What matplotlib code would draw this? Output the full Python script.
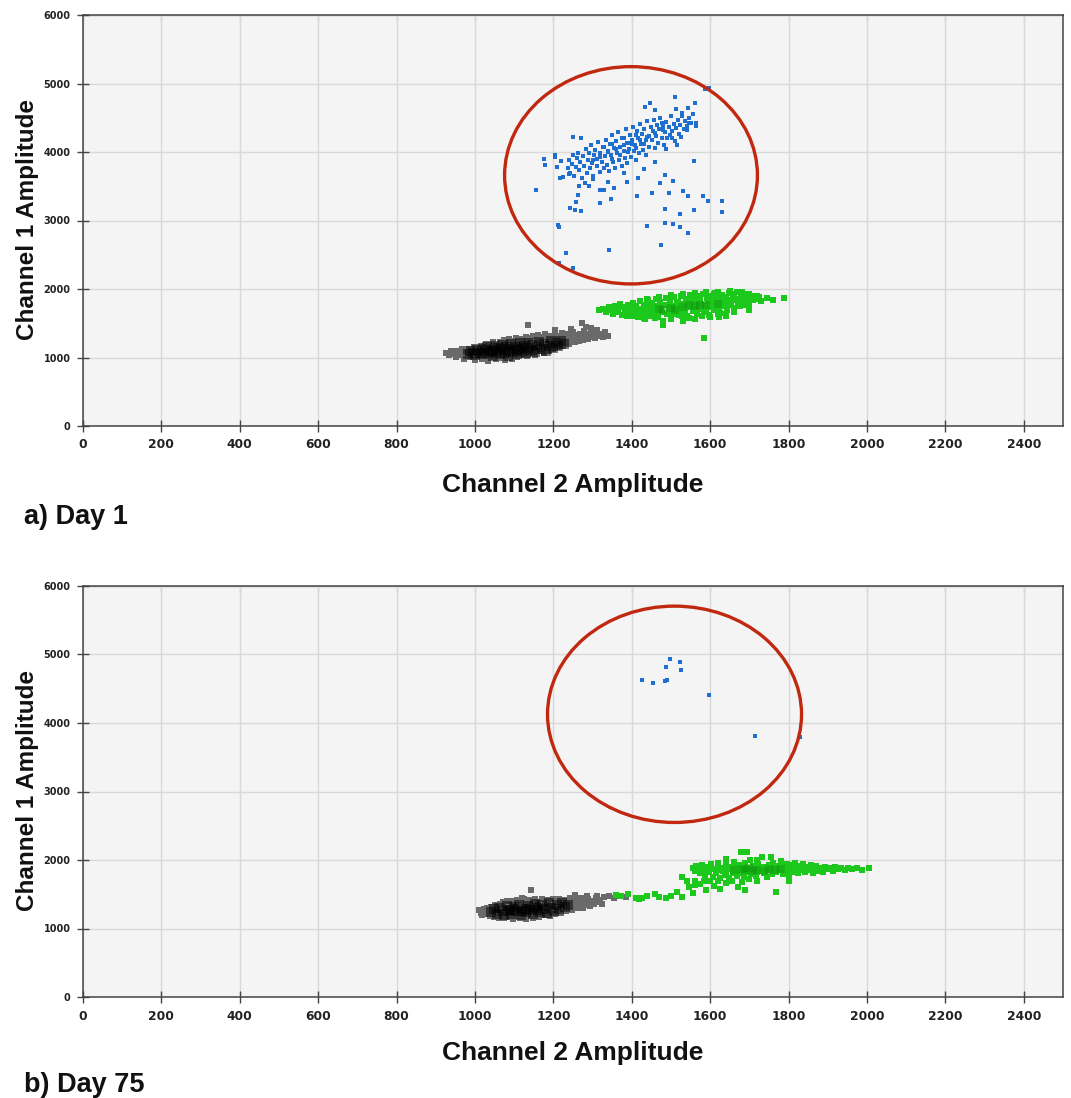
import numpy as np
import matplotlib.pyplot as plt
from matplotlib.patches import Ellipse

# ---------------- Day 1 droplets (Channel 2, Channel 1) ----------------
day1_black_core = [(982, 1052), (988, 1094), (995, 1071), (1001, 1033), (1006, 1112), (1012, 1068),
                   (1017, 1130), (1021, 1045), (1026, 1093), (1031, 1152), (1036, 1061), (1040, 1115),
                   (1045, 1020), (1049, 1170), (1054, 1084), (1058, 1136), (1063, 1048), (1067, 1105),
                   (1071, 1185), (1075, 1070), (1080, 1150), (1084, 1028), (1089, 1119), (1093, 1196),
                   (1098, 1082), (1102, 1160), (1107, 1050), (1111, 1131), (1116, 1205), (1120, 1095),
                   (1125, 1170), (1130, 1064), (1134, 1145), (1139, 1218), (1144, 1110), (1149, 1183),
                   (1154, 1080), (1159, 1158), (1164, 1230), (1169, 1125), (1175, 1196), (1181, 1100),
                   (1187, 1170), (1193, 1240), (1199, 1140), (1206, 1210), (1213, 1165), (1220, 1235),
                   (1228, 1190), (1066, 1125), (1086, 1090), (1046, 1100), (1108, 1115), (1126, 1135)]
day1_black_body = [(926, 1061), (934, 1032), (938, 1088), (944, 1052), (951, 1011), (953, 1099), (958, 1068),
                   (963, 1036), (968, 1117), (971, 984), (976, 1078), (981, 1047), (985, 1130), (988, 1003),
                   (992, 1092), (997, 1148), (1001, 968), (1004, 1059), (1008, 1119), (1012, 1022),
                   (1016, 1171), (1019, 984), (1023, 1095), (1027, 1203), (1031, 1041), (1034, 955),
                   (1038, 1150), (1042, 1008), (1046, 1219), (1049, 1072), (1053, 972), (1056, 1185),
                   (1059, 1121), (1063, 1233), (1066, 990), (1069, 1058), (1073, 1254), (1076, 961),
                   (1079, 1204), (1083, 1023), (1087, 1266), (1090, 1146), (1094, 985), (1097, 1238),
                   (1101, 1041), (1104, 1282), (1108, 1002), (1112, 1196), (1115, 1277), (1119, 1031),
                   (1122, 1249), (1126, 1079), (1129, 1300), (1133, 1019), (1136, 1227), (1140, 1288),
                   (1144, 1061), (1147, 1316), (1151, 1141), (1154, 1042), (1158, 1262), (1161, 1331),
                   (1165, 1094), (1168, 1205), (1172, 1301), (1176, 1069), (1179, 1344), (1183, 1157),
                   (1186, 1251), (1190, 1098), (1193, 1318), (1197, 1212), (1200, 1126), (1204, 1352),
                   (1207, 1271), (1211, 1148), (1214, 1312), (1218, 1209), (1221, 1363), (1225, 1171),
                   (1228, 1287), (1232, 1236), (1236, 1340), (1239, 1193), (1243, 1301), (1246, 1262),
                   (1250, 1372), (1254, 1224), (1257, 1327), (1261, 1281), (1265, 1239), (1268, 1349),
                   (1272, 1302), (1276, 1262), (1279, 1381), (1283, 1313), (1287, 1276), (1291, 1350),
                   (1295, 1297), (1299, 1387), (1303, 1331), (1307, 1282), (1312, 1362), (1316, 1310),
                   (1321, 1340), (1326, 1296), (1331, 1372), (1134, 1474), (1274, 1508), (1283, 1450),
                   (1340, 1320), (1312, 1408), (1296, 1430), (1245, 1410), (1205, 1395)]
day1_green = [(1316, 1693), (1327, 1712), (1335, 1668), (1341, 1741), (1348, 1694), (1352, 1631), (1357, 1758),
              (1361, 1710), (1366, 1662), (1370, 1784), (1374, 1627), (1378, 1735), (1383, 1690), (1387, 1601),
              (1391, 1768), (1395, 1652), (1399, 1717), (1403, 1802), (1406, 1629), (1410, 1745), (1413, 1683),
              (1417, 1587), (1420, 1820), (1424, 1708), (1427, 1651), (1431, 1773), (1434, 1562), (1438, 1726),
              (1441, 1836), (1445, 1613), (1448, 1690), (1452, 1795), (1455, 1648), (1459, 1748), (1462, 1855),
              (1466, 1597), (1469, 1712), (1473, 1811), (1476, 1665), (1480, 1540), (1483, 1767), (1487, 1871),
              (1490, 1632), (1494, 1722), (1497, 1826), (1501, 1589), (1504, 1690), (1507, 1882), (1511, 1752),
              (1514, 1641), (1518, 1803), (1521, 1709), (1525, 1897), (1528, 1608), (1532, 1776), (1535, 1668),
              (1539, 1850), (1542, 1730), (1546, 1575), (1549, 1911), (1553, 1791), (1556, 1683), (1560, 1857),
              (1563, 1742), (1567, 1629), (1570, 1893), (1574, 1807), (1577, 1711), (1581, 1926), (1584, 1658),
              (1588, 1772), (1591, 1869), (1595, 1738), (1598, 1619), (1602, 1903), (1605, 1821), (1609, 1693),
              (1612, 1940), (1616, 1780), (1619, 1862), (1623, 1721), (1626, 1652), (1630, 1917), (1633, 1806),
              (1637, 1748), (1640, 1883), (1644, 1700), (1647, 1935), (1651, 1829), (1654, 1771), (1658, 1901),
              (1661, 1724), (1665, 1858), (1668, 1953), (1672, 1793), (1675, 1747), (1679, 1892), (1683, 1838),
              (1687, 1771), (1691, 1925), (1695, 1859), (1699, 1804), (1704, 1880), (1708, 1838), (1713, 1905),
              (1718, 1852), (1724, 1876), (1730, 1828), (1430, 1700), (1445, 1745), (1460, 1690), (1475, 1730),
              (1490, 1770), (1505, 1735), (1520, 1760), (1535, 1715), (1550, 1745), (1565, 1790), (1580, 1745),
              (1595, 1800), (1610, 1760), (1625, 1820), (1640, 1790), (1655, 1840), (1670, 1820), (1685, 1860),
              (1455, 1720), (1515, 1790), (1545, 1820), (1575, 1840), (1605, 1860), (1500, 1660), (1530, 1690),
              (1560, 1710), (1590, 1700), (1620, 1770), (1650, 1800), (1470, 1660), (1415, 1715), (1440, 1660),
              (1440, 1860), (1470, 1890), (1500, 1910), (1530, 1930), (1560, 1935), (1590, 1950), (1620, 1960),
              (1650, 1965), (1680, 1950), (1700, 1930), (1720, 1900), (1550, 1880), (1610, 1920), (1660, 1930),
              (1400, 1600), (1430, 1580), (1460, 1570), (1500, 1560), (1540, 1600), (1580, 1610), (1620, 1640),
              (1660, 1670), (1700, 1700), (1600, 1590), (1520, 1620), (1640, 1600),
              (1789, 1864), (1585, 1289), (1622, 1586), (1746, 1862), (1760, 1845), (1700, 1745), (1480, 1470),
              (1530, 1540), (1640, 1630), (1560, 1560)]
day1_green_core = [(1470, 1715), (1500, 1720), (1530, 1735), (1560, 1745), (1590, 1760), (1620, 1780),
                   (1510, 1700), (1545, 1760), (1480, 1700), (1575, 1770)]
day1_blue = [(1236, 3760), (1240, 3890), (1243, 3700), (1247, 3820), (1250, 3955), (1253, 3655), (1257, 3780),
             (1260, 3910), (1263, 3990), (1266, 3730), (1269, 3850), (1272, 3620), (1275, 3945), (1278, 3800),
             (1282, 4050), (1285, 3700), (1287, 3880), (1290, 3985), (1293, 3760), (1296, 4100), (1298, 3840),
             (1301, 3650), (1304, 3950), (1307, 4035), (1310, 3790), (1312, 3900), (1315, 4140), (1318, 3705),
             (1320, 3990), (1323, 3860), (1326, 4070), (1328, 3760), (1331, 3935), (1334, 4180), (1336, 3815),
             (1339, 4020), (1342, 3720), (1344, 4110), (1347, 3960), (1350, 4250), (1352, 3850), (1355, 4060),
             (1358, 3770), (1360, 4160), (1363, 3990), (1366, 4290), (1368, 3880), (1371, 4080), (1374, 3800),
             (1376, 4210), (1379, 4010), (1382, 3910), (1384, 4330), (1387, 4125), (1389, 3840), (1392, 4045),
             (1395, 4250), (1397, 3930), (1400, 4170), (1403, 4370), (1405, 4010), (1408, 4100), (1411, 3880),
             (1413, 4300), (1416, 4200), (1419, 3980), (1421, 4410), (1424, 4120), (1427, 4260), (1429, 4030),
             (1432, 4340), (1435, 4180), (1437, 3950), (1440, 4450), (1443, 4240), (1445, 4080), (1448, 4370),
             (1451, 4170), (1454, 4300), (1457, 4470), (1459, 4060), (1462, 4230), (1465, 4400), (1468, 4130),
             (1470, 4330), (1473, 4500), (1476, 4210), (1479, 4380), (1482, 4100), (1485, 4290), (1488, 4440),
             (1491, 4200), (1494, 4360), (1497, 4250), (1500, 4520), (1503, 4310), (1507, 4410), (1510, 4160),
             (1513, 4350), (1517, 4460), (1520, 4270), (1524, 4400), (1528, 4530), (1532, 4340), (1536, 4450),
             (1540, 4380), (1545, 4500), (1550, 4430), (1556, 4560), (1340, 4000), (1360, 4050), (1380, 4100),
             (1400, 4120), (1420, 4180), (1440, 4220), (1370, 3950), (1390, 4000), (1410, 4060), (1430, 4110),
             (1350, 4120), (1380, 4200), (1410, 4250), (1320, 3920), (1300, 3880), (1460, 4280), (1480, 4320),
             (1350, 3900), (1330, 4080), (1395, 4130),
             # scattered droplets
             (1156, 3445), (1177, 3893), (1179, 3806), (1205, 3963), (1205, 3930), (1215, 2910), (1212, 2930),
             (1232, 2530), (1215, 2380), (1251, 2311), (1341, 2569), (1475, 2647), (1440, 2920), (1485, 2964),
             (1506, 2949), (1524, 2905), (1544, 2818), (1524, 3090), (1485, 3163), (1559, 3153), (1630, 3285),
             (1630, 3119), (1595, 3285), (1582, 3358), (1544, 3358), (1531, 3426), (1494, 3407), (1452, 3401),
             (1412, 3358), (1471, 3543), (1506, 3572), (1484, 3669), (1559, 3864), (1516, 4107), (1416, 3616),
             (1389, 3558), (1354, 3474), (1320, 3445), (1330, 3445), (1320, 3250), (1347, 3309), (1264, 3372),
             (1258, 3275), (1242, 3182), (1256, 3149), (1270, 3139), (1290, 3504), (1218, 3616), (1225, 3630),
             (1210, 3777), (1241, 3684), (1250, 4214), (1270, 4209), (1219, 3873), (1511, 4808), (1447, 4720),
             (1434, 4662), (1562, 4711), (1597, 4934), (1586, 4915), (1544, 4647), (1565, 4420), (1565, 4380),
             (1545, 4428), (1540, 4321), (1525, 4214), (1502, 4209), (1527, 4569), (1527, 4530), (1512, 4623),
             (1488, 4044), (1478, 4423), (1460, 4613), (1300, 3600), (1340, 3560), (1380, 3700), (1430, 3750),
             (1460, 3850), (1280, 3550), (1265, 3500)]
day1_gate = (1398, 3660, 645, 3172)   # centre x, centre y, width, height

# ---------------- Day 75 droplets ----------------
day75_black_core = [(1040, 1240), (1048, 1280), (1055, 1215), (1062, 1300), (1068, 1250), (1075, 1195),
                    (1081, 1330), (1087, 1270), (1093, 1215), (1099, 1310), (1105, 1255), (1111, 1345),
                    (1117, 1200), (1123, 1290), (1129, 1240), (1135, 1330), (1141, 1275), (1147, 1215),
                    (1153, 1360), (1159, 1300), (1165, 1245), (1171, 1340), (1177, 1285), (1183, 1230),
                    (1189, 1370), (1195, 1300), (1201, 1260), (1208, 1340), (1215, 1290), (1222, 1370),
                    (1229, 1315), (1236, 1350), (1100, 1280), (1130, 1290), (1160, 1275), (1090, 1250),
                    (1120, 1260), (1150, 1310)]
day75_black_body = [(1011, 1270), (1016, 1232), (1019, 1197), (1023, 1281), (1027, 1214), (1031, 1301),
                    (1034, 1249), (1038, 1183), (1042, 1318), (1045, 1226), (1049, 1172), (1052, 1342),
                    (1056, 1264), (1060, 1156), (1063, 1355), (1067, 1203), (1071, 1381), (1074, 1149),
                    (1078, 1300), (1082, 1397), (1085, 1168), (1089, 1246), (1093, 1407), (1096, 1140),
                    (1100, 1332), (1104, 1183), (1107, 1418), (1111, 1258), (1115, 1151), (1118, 1396),
                    (1122, 1201), (1126, 1424), (1129, 1142), (1133, 1339), (1137, 1176), (1141, 1411),
                    (1144, 1255), (1148, 1160), (1152, 1428), (1156, 1213), (1160, 1380), (1164, 1170),
                    (1167, 1306), (1171, 1437), (1175, 1195), (1179, 1362), (1183, 1242), (1187, 1420),
                    (1191, 1185), (1195, 1328), (1199, 1429), (1203, 1212), (1207, 1381), (1211, 1260),
                    (1215, 1437), (1219, 1228), (1223, 1346), (1227, 1412), (1231, 1254), (1235, 1389),
                    (1239, 1301), (1243, 1442), (1247, 1272), (1251, 1363), (1255, 1420), (1259, 1295),
                    (1263, 1386), (1267, 1331), (1271, 1441), (1275, 1306), (1279, 1398), (1284, 1350),
                    (1288, 1430), (1293, 1322), (1298, 1403), (1303, 1364), (1308, 1440), (1313, 1382),
                    (1318, 1419), (1323, 1360), (1143, 1562), (1330, 1455), (1342, 1477), (1354, 1439),
                    (1368, 1470), (1385, 1464), (1255, 1490), (1285, 1478), (1310, 1470), (1120, 1440)]
day75_green = [(1556, 1880), (1561, 1843), (1565, 1912), (1570, 1862), (1574, 1805), (1579, 1927), (1583, 1853),
               (1588, 1776), (1592, 1895), (1597, 1832), (1601, 1941), (1606, 1758), (1610, 1874), (1615, 1812),
               (1619, 1956), (1624, 1730), (1628, 1889), (1633, 1840), (1637, 1780), (1641, 1932), (1645, 1864),
               (1649, 1742), (1653, 1902), (1657, 1815), (1661, 1975), (1665, 1857), (1669, 1768), (1673, 1931),
               (1677, 1836), (1681, 1888), (1685, 1750), (1689, 1960), (1693, 1818), (1697, 1873), (1701, 2000),
               (1705, 1793), (1709, 1916), (1713, 1850), (1717, 1762), (1721, 1945), (1725, 1836), (1729, 1892),
               (1733, 2040), (1737, 1811), (1741, 1873), (1745, 1745), (1749, 1928), (1753, 1847), (1757, 1792),
               (1761, 1957), (1765, 1880), (1769, 1821), (1773, 1912), (1777, 1858), (1781, 1980), (1785, 1800),
               (1789, 1895), (1793, 1843), (1797, 1937), (1801, 1776), (1805, 1872), (1809, 1922), (1813, 1829),
               (1817, 1958), (1821, 1880), (1825, 1805), (1829, 1912), (1833, 1856), (1837, 1940), (1842, 1829),
               (1846, 1895), (1851, 1860), (1856, 1926), (1861, 1812), (1866, 1878), (1871, 1917), (1876, 1846),
               (1881, 1890), (1887, 1830), (1893, 1905), (1899, 1862), (1905, 1884), (1912, 1845), (1919, 1902),
               (1926, 1870), (1934, 1889), (1943, 1852), (1952, 1880), (1962, 1862), (1975, 1876), (1988, 1858),
               (2005, 1880), (1600, 1880), (1620, 1850), (1640, 1880), (1660, 1830), (1680, 1860), (1700, 1880),
               (1720, 1860), (1740, 1840), (1760, 1870), (1780, 1850), (1800, 1880), (1820, 1850), (1840, 1870),
               (1660, 1900), (1700, 1840), (1740, 1900), (1780, 1900), (1620, 1900), (1860, 1860), (1880, 1870),
               (1680, 1810), (1720, 1820), (1760, 1820), (1640, 1820), (1695, 2110), (1678, 2112), (1755, 2050),
               (1640, 2010), (1720, 2000),
               # low tail between the clusters
               (1360, 1489), (1372, 1470), (1390, 1500), (1410, 1440), (1419, 1430), (1427, 1441), (1440, 1470),
               (1460, 1500), (1470, 1460), (1487, 1445), (1500, 1480), (1515, 1530), (1529, 1464), (1529, 1756),
               (1545, 1600), (1555, 1520), (1560, 1700), (1575, 1650), (1590, 1560), (1600, 1700), (1610, 1620),
               (1625, 1580), (1640, 1660), (1655, 1700), (1670, 1600), (1690, 1560), (1700, 1720), (1720, 1690),
               (1680, 1680), (1540, 1700), (1585, 1690), (1620, 1690), (1650, 1690), (1560, 1640), (1767, 1537),
               (1800, 1700)]
day75_green_core = [(1660, 1860), (1690, 1850), (1720, 1860), (1750, 1870), (1700, 1880), (1740, 1845),
                    (1680, 1870), (1780, 1870), (1710, 1835), (1765, 1855)]
day75_blue = [(1497, 4939), (1522, 4895), (1487, 4822), (1525, 4778), (1426, 4632), (1454, 4588),
              (1484, 4609), (1489, 4632), (1596, 4413), (1715, 3806), (1829, 3791)]
day75_gate = (1509, 4127, 648, 3158)

x_ticks = list(range(0, 2401, 200))
y_ticks = list(range(0, 6001, 1000))


def pts(ax, data, **kw):
    a = np.array(data, dtype=float)
    ax.scatter(a[:, 0], a[:, 1], marker="s", linewidths=0, **kw)


def panel(ax, black_core, black_body, green, green_core, blue, gate):
    ax.set_facecolor("#f4f4f4")
    ax.set_xlim(0, 2500)
    ax.set_ylim(0, 6000)
    ax.set_xticks(x_ticks)
    ax.set_yticks(y_ticks)
    ax.grid(True, color="#d9d9d9", lw=1.0, zorder=0)
    ax.set_axisbelow(True)
    for s in ax.spines.values():
        s.set_color("#444444")
        s.set_linewidth(1.1)
    ax.tick_params(axis="x", direction="inout", length=8, width=1, color="#444444",
                   labelsize=8.8, pad=5)
    ax.tick_params(axis="y", direction="inout", length=8, width=1, color="#444444",
                   labelsize=7, pad=5)
    for lab in ax.get_xticklabels() + ax.get_yticklabels():
        lab.set_fontweight("bold")
        lab.set_color("#222222")
    top = ax.secondary_xaxis("top")
    top.set_xticks(x_ticks)
    top.tick_params(direction="in", length=4, color="#444444", labeltop=False)

    pts(ax, black_body, s=14, color="#6a6a6a", zorder=2)
    pts(ax, black_core, s=55, color="#000000", alpha=0.5, zorder=3)
    pts(ax, green, s=13, color="#1cc81c", zorder=2)
    pts(ax, green_core, s=40, color="#087f08", alpha=0.3, zorder=3)
    pts(ax, blue, s=8, color="#1f6fd1", zorder=2)

    cx, cy, w, h = gate
    ax.add_patch(Ellipse((cx, cy), w, h, fill=False, ec="#c0280f", lw=2.4, zorder=4))


fig = plt.figure(figsize=(10.71, 10.98), dpi=100)
ax1 = fig.add_axes([83 / 1071, 1 - 426 / 1098, 980 / 1071, 411 / 1098])
ax2 = fig.add_axes([83 / 1071, 1 - 997 / 1098, 980 / 1071, 411 / 1098])

panel(ax1, day1_black_core, day1_black_body, day1_green, day1_green_core, day1_blue, day1_gate)
panel(ax2, day75_black_core, day75_black_body, day75_green, day75_green_core, day75_blue, day75_gate)

lab = dict(family="Liberation Sans", fontweight="bold", color="#111111")
for xl_y, yl_y, tag, tag_y in [(0.5583, 0.80, "a) Day 1", 1 - 517 / 1098),
                               (0.041, 0.2796, "b) Day 75", 1 - 1085 / 1098)]:
    fig.text(573 / 1071, xl_y, "Channel 2 Amplitude", ha="center", va="center", fontsize=19, **lab)
    fig.text(28 / 1071, yl_y, "Channel 1 Amplitude", ha="center", va="center", rotation=90,
             fontsize=17.5, **lab)
    fig.text(24 / 1071, tag_y, tag, ha="left", va="center", fontsize=19.5, **lab)

fig.savefig("out.png", dpi=100)
